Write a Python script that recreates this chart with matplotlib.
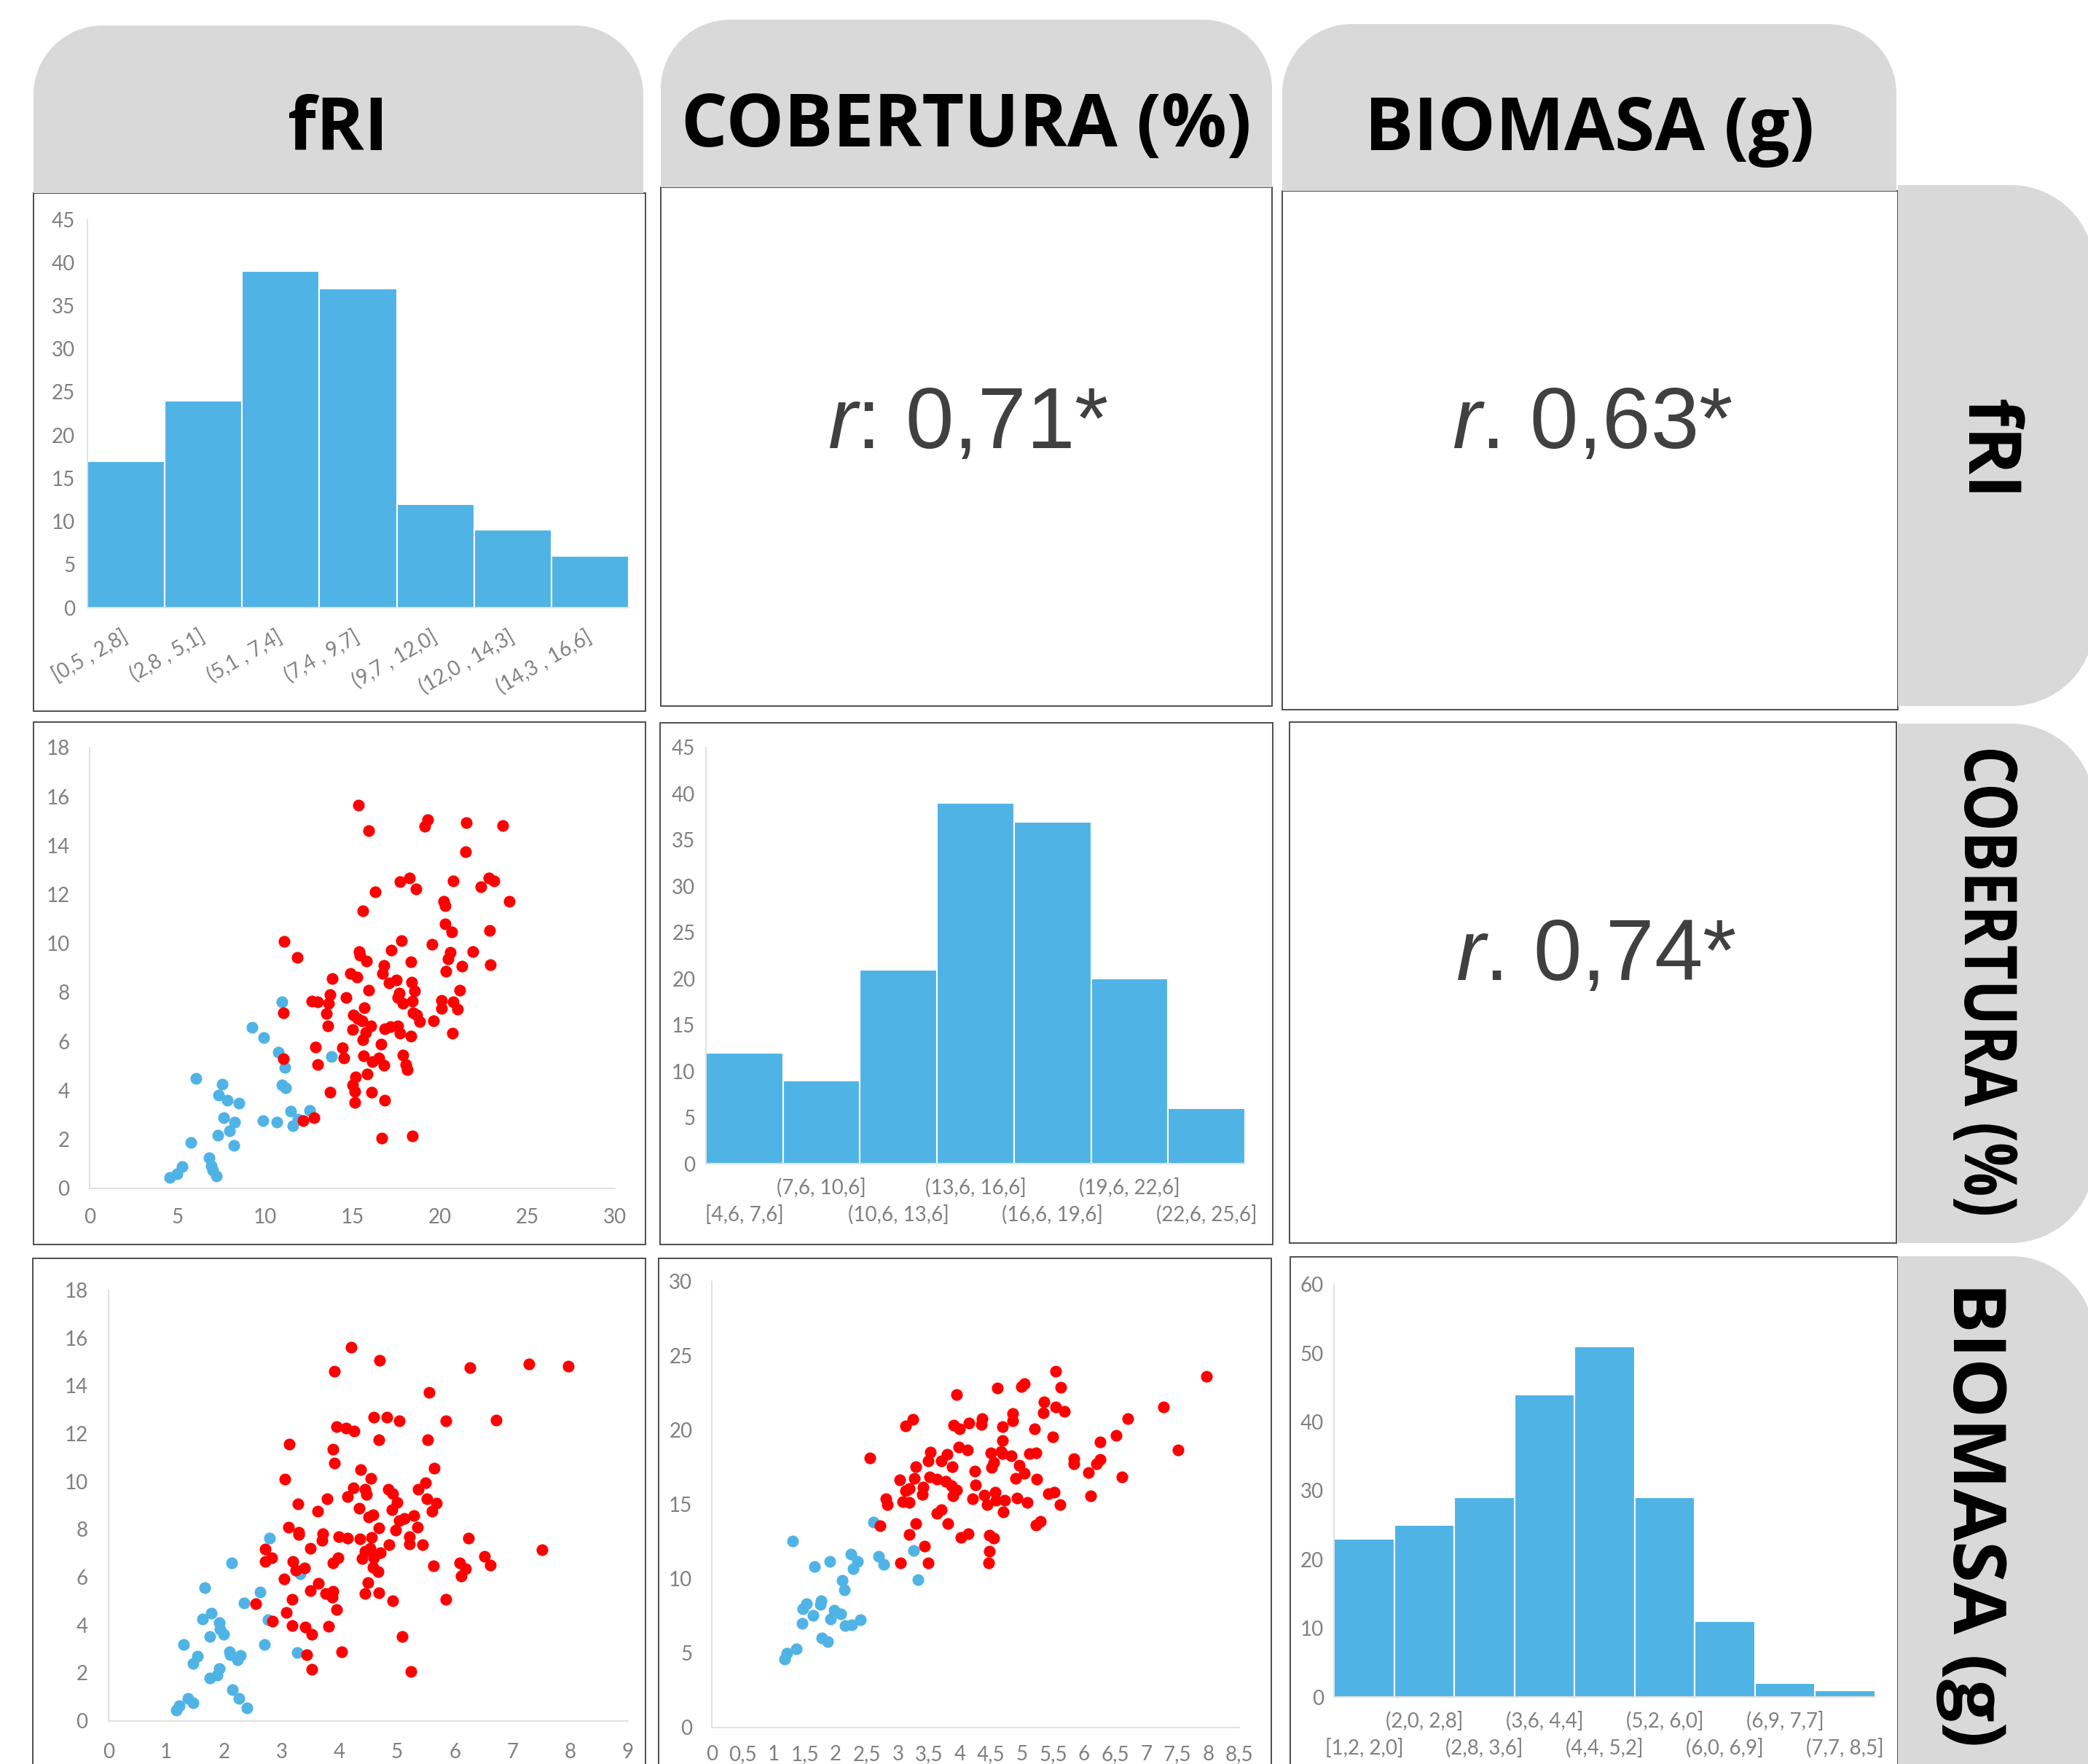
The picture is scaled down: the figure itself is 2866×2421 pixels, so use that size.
import matplotlib
matplotlib.use('Agg')
import numpy as np
import matplotlib.pyplot as plt
from matplotlib.path import Path
from matplotlib.patches import PathPatch, Rectangle
from matplotlib.ticker import FuncFormatter, MultipleLocator
from matplotlib.textpath import TextPath
from matplotlib.font_manager import FontProperties
from matplotlib.transforms import Affine2D

plt.rcParams['mathtext.fontset'] = 'custom'
plt.rcParams['mathtext.rm'] = 'Liberation Sans'
plt.rcParams['mathtext.it'] = 'Liberation Sans:italic'

# ---- data ----
headers = ['fRI', 'COBERTURA (%)', 'BIOMASA (g)']
r_labels = [r'$r$: 0,71*', r'$r$. 0,63*', r'$r$. 0,74*']

fri_bins = ['[0,5 , 2,8]', '(2,8 , 5,1]', '(5,1 , 7,4]', '(7,4 , 9,7]',
            '(9,7 , 12,0]', '(12,0 , 14,3]', '(14,3 , 16,6]']
fri_counts = [17, 24, 39, 37, 12, 9, 6]

cob_bins = ['[4,6, 7,6]', '(7,6, 10,6]', '(10,6, 13,6]', '(13,6, 16,6]',
            '(16,6, 19,6]', '(19,6, 22,6]', '(22,6, 25,6]']
cob_counts = [12, 9, 21, 39, 37, 20, 6]

bio_bins = ['[1,2, 2,0]', '(2,0, 2,8]', '(2,8, 3,6]', '(3,6, 4,4]', '(4,4, 5,2]',
            '(5,2, 6,0]', '(6,0, 6,9]', '(6,9, 7,7]', '(7,7, 8,5]']
bio_counts = [23, 25, 29, 44, 51, 29, 11, 2, 1]

# cobertura (x) vs fRI (y)
cob_fri_blue_x = [4.58, 4.97, 5.29, 5.79, 6.06, 6.81, 6.94, 7.01, 7.24, 7.31, 7.35, 7.56,
                  7.65, 7.85, 7.99, 8.24, 8.28, 8.53, 9.26, 9.89, 9.94, 10.69, 10.78, 10.98,
                  10.98, 11.16, 11.19, 11.48, 11.60, 11.91, 12.55, 13.80]
cob_fri_blue_y = [0.43, 0.59, 0.87, 1.87, 4.48, 1.25, 0.91, 0.73, 0.49, 2.17, 3.79, 4.23,
                  2.86, 3.59, 2.35, 1.73, 2.68, 3.48, 6.58, 2.75, 6.14, 2.69, 5.54, 7.61,
                  4.20, 4.92, 4.09, 3.13, 2.54, 2.82, 3.16, 5.36]
cob_fri_red_x = [11.10, 11.05, 11.05, 11.84, 12.19, 12.68, 12.82, 12.89, 13.00, 13.02, 13.50,
                 13.59, 13.64, 13.71, 13.71, 13.84, 14.45, 14.50, 14.66, 14.91, 15.02, 15.02,
                 15.07, 15.13, 15.13, 15.20, 15.25, 15.32, 15.34, 15.38, 15.43, 15.54, 15.59,
                 15.59, 15.66, 15.70, 15.75, 15.79, 15.84, 15.93, 15.95, 16.04, 16.09, 16.16,
                 16.29, 16.52, 16.63, 16.68, 16.72, 16.79, 16.81, 16.84, 16.86, 17.11, 17.18,
                 17.24, 17.52, 17.59, 17.59, 17.68, 17.72, 17.72, 17.79, 17.90, 17.90, 18.06,
                 18.13, 18.27, 18.36, 18.36, 18.40, 18.45, 18.45, 18.47, 18.54, 18.65, 18.70,
                 18.86, 19.15, 19.31, 19.56, 19.63, 20.08, 20.08, 20.24, 20.31, 20.31, 20.35,
                 20.47, 20.60, 20.69, 20.72, 20.76, 20.76, 21.03, 21.15, 21.26, 21.49, 21.53,
                 21.87, 22.35, 22.80, 22.85, 22.90, 23.10, 23.60, 23.96]
cob_fri_red_y = [10.07, 7.16, 5.30, 9.43, 2.75, 7.64, 2.86, 5.76, 5.04, 7.61, 7.14,
                 6.62, 7.56, 7.90, 3.93, 8.55, 5.74, 5.33, 7.79, 8.77, 4.20, 6.47,
                 7.06, 3.96, 3.50, 4.53, 8.63, 6.92, 15.64, 9.65, 9.51, 6.83, 11.34,
                 6.06, 5.39, 7.36, 6.35, 9.29, 4.66, 14.61, 8.09, 6.64, 3.92, 5.17,
                 12.09, 5.32, 5.88, 2.03, 8.78, 9.11, 5.02, 6.51, 3.60, 8.37, 6.61,
                 9.73, 8.49, 6.64, 7.80, 7.97, 6.33, 12.52, 10.11, 5.44, 7.56, 5.06,
                 4.85, 12.68, 9.26, 6.20, 8.42, 7.64, 2.14, 7.17, 8.04, 12.21, 7.08,
                 6.80, 14.77, 15.06, 9.95, 6.84, 7.68, 7.35, 11.73, 11.54, 10.79, 8.86,
                 9.37, 9.62, 10.48, 6.32, 12.56, 7.61, 7.32, 8.08, 9.08, 13.73, 14.92,
                 9.65, 12.30, 12.68, 10.54, 9.12, 12.54, 14.82, 11.73]

# biomasa (x) vs fRI (y)
bio_fri_blue_x = [1.18, 1.23, 1.37, 1.46, 1.30, 1.47, 1.54, 1.63, 1.67, 1.76, 1.76, 1.78,
                  1.88, 1.92, 1.92, 1.93, 1.99, 2.10, 2.11, 2.13, 2.15, 2.24, 2.26, 2.29,
                  2.35, 2.40, 2.62, 2.70, 2.77, 2.79, 3.27, 3.32]
bio_fri_blue_y = [0.45, 0.62, 0.93, 0.75, 3.18, 2.39, 2.69, 4.26, 5.55, 1.78, 3.53, 4.50,
                  1.89, 4.10, 2.19, 3.83, 3.61, 2.87, 2.77, 6.60, 1.28, 2.54, 0.93, 2.73,
                  4.91, 0.53, 5.37, 3.18, 4.22, 7.64, 2.84, 6.15]
bio_fri_red_x = [2.55, 2.71, 2.72, 2.83, 2.84, 3.04, 3.06, 3.08, 3.12, 3.13, 3.18, 3.18,
                 3.19, 3.24, 3.28, 3.30, 3.30, 3.40, 3.41, 3.43, 3.50, 3.50, 3.52, 3.52,
                 3.63, 3.64, 3.70, 3.71, 3.76, 3.79, 3.81, 3.87, 3.89, 3.89, 3.89, 3.91,
                 3.92, 3.95, 3.95, 3.98, 3.99, 4.04, 4.11, 4.14, 4.14, 4.21, 4.24, 4.25,
                 4.34, 4.36, 4.37, 4.40, 4.44, 4.45, 4.45, 4.47, 4.49, 4.51, 4.53, 4.55,
                 4.56, 4.58, 4.58, 4.60, 4.60, 4.67, 4.68, 4.69, 4.69, 4.70, 4.71, 4.82,
                 4.85, 4.86, 4.91, 4.93, 4.93, 4.97, 5.00, 5.04, 5.04, 5.09, 5.13, 5.21,
                 5.21, 5.24, 5.29, 5.35, 5.37, 5.44, 5.49, 5.52, 5.53, 5.55, 5.61, 5.63,
                 5.64, 5.68, 5.84, 5.85, 6.08, 6.11, 6.19, 6.24, 6.26, 6.51, 6.61, 6.72,
                 7.28, 7.51, 7.97]
bio_fri_red_y = [4.88, 7.18, 6.66, 6.82, 4.17, 5.92, 10.09, 4.52, 8.09, 11.55, 5.07, 3.98,
                 6.67, 6.29, 9.06, 7.79, 7.89, 6.38, 3.92, 2.76, 5.45, 7.20, 3.62, 2.16,
                 8.77, 5.74, 7.53, 7.83, 5.32, 9.27, 3.94, 5.17, 6.60, 11.36, 5.41, 10.78,
                 14.62, 4.65, 12.30, 6.82, 7.68, 2.87, 12.22, 9.38, 7.63, 15.62, 9.74, 12.10,
                 8.87, 7.59, 10.50, 6.77, 5.32, 7.09, 9.68, 9.46, 5.78, 8.53, 7.22, 10.13,
                 7.65, 8.61, 6.40, 6.81, 12.70, 6.22, 8.06, 11.73, 5.34, 15.06, 7.02, 12.70,
                 9.68, 7.37, 8.83, 5.02, 9.50, 7.97, 9.13, 8.36, 12.55, 3.51, 8.45, 7.68,
                 7.38, 2.05, 8.57, 8.09, 9.68, 7.37, 9.96, 9.29, 11.73, 13.72, 8.75, 6.48,
                 10.55, 9.09, 12.53, 5.07, 6.61, 6.04, 6.36, 7.64, 14.76, 6.86, 6.51, 12.57,
                 14.92, 7.13, 14.83]

# biomasa (x) vs cobertura (y)
bio_cob_blue_x = [1.18, 1.21, 1.30, 1.36, 1.46, 1.47, 1.53, 1.63, 1.66, 1.75, 1.76, 1.78,
                  1.87, 1.90, 1.91, 1.98, 2.08, 2.10, 2.14, 2.15, 2.24, 2.26, 2.28, 2.35,
                  2.40, 2.61, 2.69, 2.77, 3.25, 3.32]
bio_cob_blue_y = [4.57, 4.99, 12.54, 5.28, 6.97, 7.98, 8.29, 7.54, 10.82, 8.25, 8.53, 6.03,
                  5.76, 11.15, 7.30, 7.85, 7.63, 9.90, 9.24, 6.82, 11.63, 6.91, 10.67, 11.15,
                  7.24, 13.79, 11.48, 10.97, 11.90, 9.94]
bio_cob_red_x = [2.55, 2.71, 2.81, 2.83, 3.03, 3.04, 3.08, 3.12, 3.13, 3.18, 3.18, 3.18,
                 3.24, 3.27, 3.29, 3.29, 3.40, 3.41, 3.43, 3.49, 3.49, 3.51, 3.52, 3.63,
                 3.63, 3.70, 3.70, 3.77, 3.79, 3.81, 3.86, 3.87, 3.89, 3.90, 3.95, 3.95,
                 3.98, 3.99, 4.02, 4.12, 4.13, 4.14, 4.21, 4.24, 4.25, 4.34, 4.36, 4.39,
                 4.44, 4.46, 4.47, 4.48, 4.50, 4.51, 4.55, 4.55, 4.57, 4.58, 4.60, 4.66,
                 4.68, 4.69, 4.69, 4.70, 4.72, 4.83, 4.85, 4.85, 4.90, 4.92, 4.96, 4.99,
                 5.04, 5.04, 5.08, 5.12, 5.20, 5.22, 5.22, 5.24, 5.29, 5.34, 5.36, 5.43,
                 5.49, 5.52, 5.54, 5.54, 5.61, 5.63, 5.68, 5.84, 5.84, 6.07, 6.10, 6.20,
                 6.26, 6.26, 6.52, 6.61, 6.71, 7.28, 7.51, 7.97]
bio_cob_red_y = [18.10, 13.55, 15.39, 14.98, 16.65, 11.08, 15.17, 20.28, 15.92, 16.05, 12.98, 15.11,
                 20.72, 16.76, 17.51, 13.68, 15.68, 16.16, 12.16, 17.92, 11.04, 16.85, 18.50, 16.71,
                 14.41, 17.90, 14.62, 16.56, 18.36, 13.68, 16.23, 17.53, 15.59, 20.30, 15.94, 22.37,
                 18.87, 20.10, 12.78, 18.65, 13.00, 20.45, 15.35, 17.24, 16.30, 20.37, 20.78, 15.61,
                 15.00, 11.04, 11.83, 12.93, 18.47, 17.48, 17.81, 12.71, 15.83, 15.28, 22.83, 18.56,
                 18.39, 20.23, 19.31, 14.51, 15.26, 18.25, 20.63, 21.11, 16.76, 15.44, 17.64, 22.92,
                 17.09, 23.14, 15.13, 18.41, 20.06, 13.59, 18.47, 16.71, 13.86, 21.16, 21.88, 15.70,
                 19.55, 15.79, 23.97, 21.55, 15.00, 22.87, 21.27, 18.08, 17.70, 17.15, 15.59, 17.70,
                 18.03, 19.18, 19.66, 16.82, 20.76, 21.57, 18.65, 23.60]

# ---- style ----
W, H = 2866, 2421
TAB_GREY = '#d9d9d9'
BAR_BLUE = '#50b3e5'
DOT_BLUE = '#50b3e6'
DOT_RED = '#ff0000'
TICK_GREY = '#808080'
AXIS_GREY = '#d9d9d9'
BORDER = '#404040'
TICK_FONT = 'Lato'
TICK_SIZE = 20
HEAD_FONT = 'Open Sans'
HEAD_SIZE = 72

fig = plt.figure(figsize=(W / 100, H / 100), dpi=100)
bg = fig.add_axes([0, 0, 1, 1])
bg.set_xlim(0, W)
bg.set_ylim(H, 0)
bg.axis('off')

K = 0.5523


def tab(x0, y0, x1, y1, r, side):
    c = r * (1 - K)
    if side == 'top':
        verts = [(x0, y1), (x0, y0 + r), (x0, y0 + c), (x0 + c, y0), (x0 + r, y0),
                 (x1 - r, y0), (x1 - c, y0), (x1, y0 + c), (x1, y0 + r),
                 (x1, y1), (x0, y1)]
    else:
        verts = [(x0, y0), (x1 - r, y0), (x1 - c, y0), (x1, y0 + c), (x1, y0 + r),
                 (x1, y1 - r), (x1, y1 - c), (x1 - c, y1), (x1 - r, y1),
                 (x0, y1), (x0, y0)]
    codes = [Path.MOVETO, Path.LINETO, Path.CURVE4, Path.CURVE4, Path.CURVE4,
             Path.LINETO, Path.CURVE4, Path.CURVE4, Path.CURVE4,
             Path.LINETO, Path.CLOSEPOLY]
    bg.add_patch(PathPatch(Path(verts, codes), facecolor=TAB_GREY, edgecolor='none', zorder=2))


head_fp = FontProperties(family=HEAD_FONT, weight='bold')


def side_label(xb, yc, text, length=None):
    # vertical header, reads top to bottom; squeezed along its length if asked
    tp = TextPath((0, 0), text, size=HEAD_SIZE * 100 / 72, prop=head_fp)
    ext = tp.get_extents()
    sx = 1.0 if length is None else length / ext.width
    cx = (ext.x0 + ext.x1) / 2
    m = np.array([[0, 1, xb], [sx, 0, yc - sx * cx], [0, 0, 1]])
    bg.add_patch(PathPatch(Affine2D(m).transform_path(tp), facecolor='black',
                           edgecolor='none', zorder=3))


# panel frames
panels = [(46, 265, 886, 976), (907, 257, 1746, 969), (1760, 262, 2605, 974),
          (46, 991, 886, 1708), (906, 992, 1747, 1708), (1770, 991, 2603, 1706),
          (45, 1727, 886, 2480), (904, 1727, 1745, 2480), (1771, 1725, 2605, 2480)]
for x0, y0, x1, y1 in panels:
    bg.add_patch(Rectangle((x0, y0), x1 - x0, y1 - y0, facecolor='white',
                           edgecolor=BORDER, lw=1.3, zorder=1))

# header tabs
top_tabs = [(46, 35, 883, 265), (907, 27, 1746, 257), (1760, 33, 2603, 262)]
for x0, y0, x1, y1 in top_tabs:
    tab(x0, y0, x1, y1, 95, 'top')
right_tabs = [(2605, 254, 2875, 969), (2605, 993, 2875, 1706), (2605, 1724, 2875, 2600)]
for x0, y0, x1, y1 in right_tabs:
    tab(x0, y0, x1, y1, 115, 'right')

top_txt = [(464, 206), (1326, 201), (2182, 206)]
for (x, y), t in zip(top_txt, headers):
    bg.text(x, y, t, ha='center', va='baseline', fontsize=HEAD_SIZE, fontweight='bold',
            family=HEAD_FONT, color='black', zorder=3)

side_label(2703, 612, headers[0])
side_label(2697, 1348, headers[1], length=638)
side_label(2682, 2082, headers[2], length=625)

# correlation texts
r_pos = [(1329, 615), (2186, 615), (2191, 1345)]
for (x, y), t in zip(r_pos, r_labels):
    bg.text(x, y, t, ha='center', va='baseline', fontsize=86, family='Liberation Sans',
            color='#404040', zorder=3)


def new_ax(x0, y0, x1, y1):
    ax = fig.add_axes([x0 / W, 1 - y1 / H, (x1 - x0) / W, (y1 - y0) / H])
    ax.set_facecolor('none')
    for s in ['top', 'right']:
        ax.spines[s].set_visible(False)
    for s in ['left', 'bottom']:
        ax.spines[s].set_color(AXIS_GREY)
        ax.spines[s].set_linewidth(1.1)
    ax.tick_params(length=0, labelsize=TICK_SIZE, labelcolor=TICK_GREY)
    return ax


def comma(v, pos):
    return ('%g' % v).replace('.', ',')


def fix_fonts(ax):
    for a in (ax.xaxis, ax.yaxis):
        for t in a.get_major_ticks():
            t.label1.set_family(TICK_FONT)


def hist(rect, counts, bins, ymax, step, ypad, stagger):
    ax = new_ax(*rect)
    xs = list(range(len(counts)))
    ax.bar(xs, counts, width=1.0, color=BAR_BLUE, edgecolor='white', linewidth=1.5, zorder=2)
    ax.set_xlim(-0.5, len(counts) - 0.5)
    ax.set_ylim(0, ymax)
    ax.yaxis.set_major_locator(MultipleLocator(step))
    ax.tick_params(axis='y', pad=ypad)
    ax.set_xticks(xs)
    if stagger:
        # odd bins on the upper row as tick labels, even bins one row lower
        ax.set_xticklabels([b if i % 2 else '' for i, b in enumerate(bins)], family=TICK_FONT)
        ax.tick_params(axis='x', pad=14)
        for i, b in enumerate(bins):
            if i % 2 == 0:
                ax.annotate(b, xy=(i, 0), xycoords=('data', 'axes fraction'),
                            xytext=(0, -41), textcoords='offset points', ha='center',
                            va='top', fontsize=TICK_SIZE, color=TICK_GREY, family=TICK_FONT,
                            annotation_clip=False)
    else:
        ax.set_xticklabels(bins, family=TICK_FONT, rotation=30, ha='right', va='center',
                           rotation_mode='anchor')
        ax.tick_params(axis='x', pad=27)
    fix_fonts(ax)
    return ax


def scatter(rect, bx, by, rx, ry, xmax, xstep, ymax, ystep, xpad, ypad):
    ax = new_ax(*rect)
    ax.scatter(bx, by, s=135, color=DOT_BLUE, linewidths=0, zorder=2)
    ax.scatter(rx, ry, s=135, color=DOT_RED, linewidths=0, zorder=3)
    ax.set_xlim(0, xmax)
    ax.set_ylim(0, ymax)
    ax.xaxis.set_major_locator(MultipleLocator(xstep))
    ax.yaxis.set_major_locator(MultipleLocator(ystep))
    ax.xaxis.set_major_formatter(FuncFormatter(comma))
    ax.tick_params(axis='x', pad=xpad)
    ax.tick_params(axis='y', pad=ypad)
    fix_fonts(ax)
    return ax


hist((120, 301, 863, 834), fri_counts, fri_bins, 45, 5, 12, False)
hist((969, 1026, 1709, 1597), cob_counts, cob_bins, 45, 5, 10.5, True)
hist((1831, 1762.6, 2574, 2329), bio_counts, bio_bins, 60, 10, 10, True)

scatter((123.4, 1026, 843.8, 1630.5), cob_fri_blue_x, cob_fri_blue_y,
        cob_fri_red_x, cob_fri_red_y, 30, 5, 18, 2, 20, 20)
scatter((149, 1770.7, 861.8, 2361.5), bio_fri_blue_x, bio_fri_blue_y,
        bio_fri_red_x, bio_fri_red_y, 9, 1, 18, 2, 22, 20.5)
scatter((976.8, 1758.6, 1701, 2370.5), bio_cob_blue_x, bio_cob_blue_y,
        bio_cob_red_x, bio_cob_red_y, 8.5, 0.5, 30, 5, 18, 19)

fig.savefig('out.png', dpi=100)
